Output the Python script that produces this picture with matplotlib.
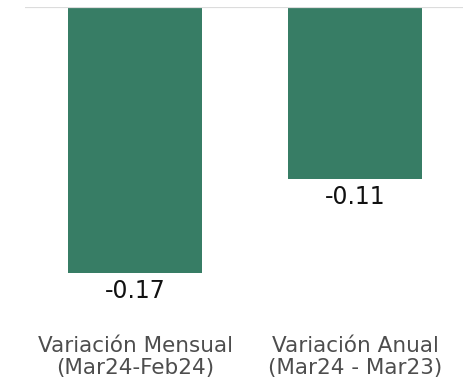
import numpy as np
import matplotlib.pyplot as plt

# data
categories = ["Variación Mensual\n(Mar24-Feb24)", "Variación Anual\n(Mar24 - Mar23)"]
values = [-0.17, -0.11]
value_labels = ["-0.17", "-0.11"]

bar_color = "#377d65"
text_color = "#4d4d4d"

fig = plt.figure(figsize=(4.63, 3.79), dpi=100)
ax = fig.add_axes([25 / 463, 0, 438 / 463, 372 / 379])

x = np.arange(len(categories))
bars = ax.bar(x, values, width=0.61, color=bar_color, zorder=2)

ax.set_xlim(-0.5, 1.49)
ax.set_ylim(-372 / 1565, 0)

# zero line on top
ax.axhline(0, color="#dcdcdc", lw=1.6, zorder=3)

# value labels under each bar
for b, lab in zip(bars, value_labels):
    ax.annotate(lab, (b.get_x() + b.get_width() / 2, b.get_height()),
                xytext=(0, -4), textcoords="offset points",
                ha="center", va="top", fontsize=17, color="#111111")

# category labels near bottom
for xi, cat in zip(x, categories):
    ax.text(xi, -0.2235, cat, ha="center", va="center", fontsize=15.5,
            color=text_color, linespacing=1.12)

for s in ax.spines.values():
    s.set_visible(False)
ax.set_xticks([])
ax.set_yticks([])

fig.savefig("out.png", dpi=100)
